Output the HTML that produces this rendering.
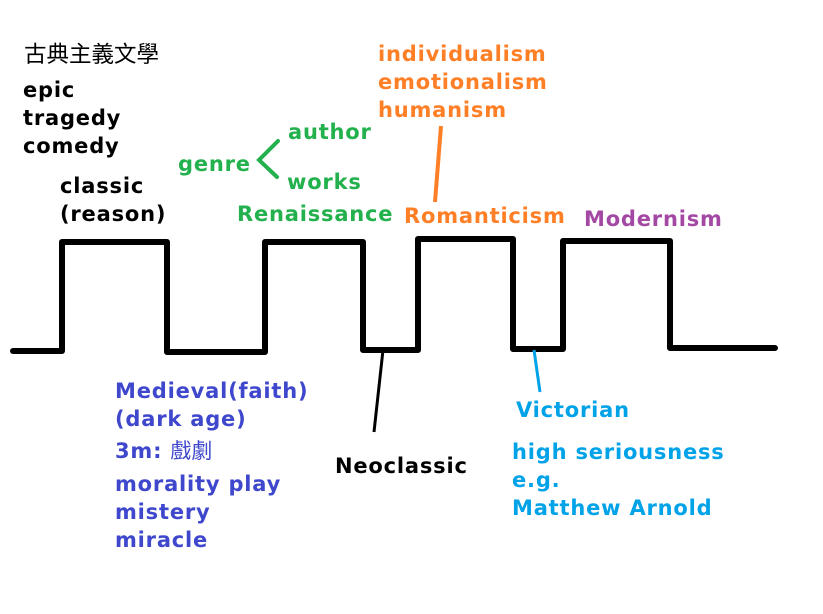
<!DOCTYPE html>
<html><head><meta charset="utf-8"><style>
body{margin:0;background:#fff;width:823px;height:614px;overflow:hidden;position:relative;font-family:"DejaVu Sans","Noto Sans CJK TC",sans-serif;font-weight:bold;font-size:21px;letter-spacing:0.8px}
.t{position:absolute;white-space:nowrap;line-height:28px}
</style></head><body>
<svg width="823" height="614" style="position:absolute;left:0;top:0">
<polyline points="13,351 62,351 62,242 167,242 167,352 265,352 265,242 363,242 363,350 418,350 418,239 513,239 513,349 563,349 563,241 670,241 670,348 775,348" fill="none" stroke="#000" stroke-width="6" stroke-linejoin="round" stroke-linecap="round"/>
<polyline points="278,141 259,160 277,177" fill="none" stroke="#22b14c" stroke-width="4" stroke-linecap="round"/>
<line x1="441" y1="126" x2="435" y2="202" stroke="#ff7f27" stroke-width="4"/>
<line x1="383" y1="350" x2="374" y2="432" stroke="#000" stroke-width="3"/>
<line x1="534" y1="350" x2="540" y2="392" stroke="#00a2e8" stroke-width="3"/>
</svg>
<div class="t" style="left:24px;top:41px;font-weight:normal;font-size:22.5px;letter-spacing:0">古典主義文學</div>
<div class="t" style="left:23px;top:76px">epic<br>tragedy<br>comedy</div>
<div class="t" style="left:60px;top:172px">classic<br>(reason)</div>
<div class="t" style="left:178px;top:150px;color:#22b14c">genre</div>
<div class="t" style="left:288px;top:118px;color:#22b14c">author</div>
<div class="t" style="left:287px;top:168px;color:#22b14c">works</div>
<div class="t" style="left:237px;top:200px;color:#22b14c">Renaissance</div>
<div class="t" style="left:378px;top:40px;color:#ff7f27">individualism<br>emotionalism<br>humanism</div>
<div class="t" style="left:404px;top:202px;color:#ff7f27">Romanticism</div>
<div class="t" style="left:584px;top:205px;color:#a349a4">Modernism</div>
<div class="t" style="left:115px;top:377px;color:#3f48cc">Medieval(faith)<br>(dark age)</div>
<div class="t" style="left:115px;top:437px;color:#3f48cc">3m: <span style="font-weight:normal;letter-spacing:0">戲劇</span></div>
<div class="t" style="left:115px;top:470px;color:#3f48cc">morality play<br>mistery<br>miracle</div>
<div class="t" style="left:335px;top:452px">Neoclassic</div>
<div class="t" style="left:516px;top:396px;color:#00a2e8">Victorian</div>
<div class="t" style="left:512px;top:438px;color:#00a2e8">high seriousness<br>e.g.<br>Matthew Arnold</div>
</body></html>
